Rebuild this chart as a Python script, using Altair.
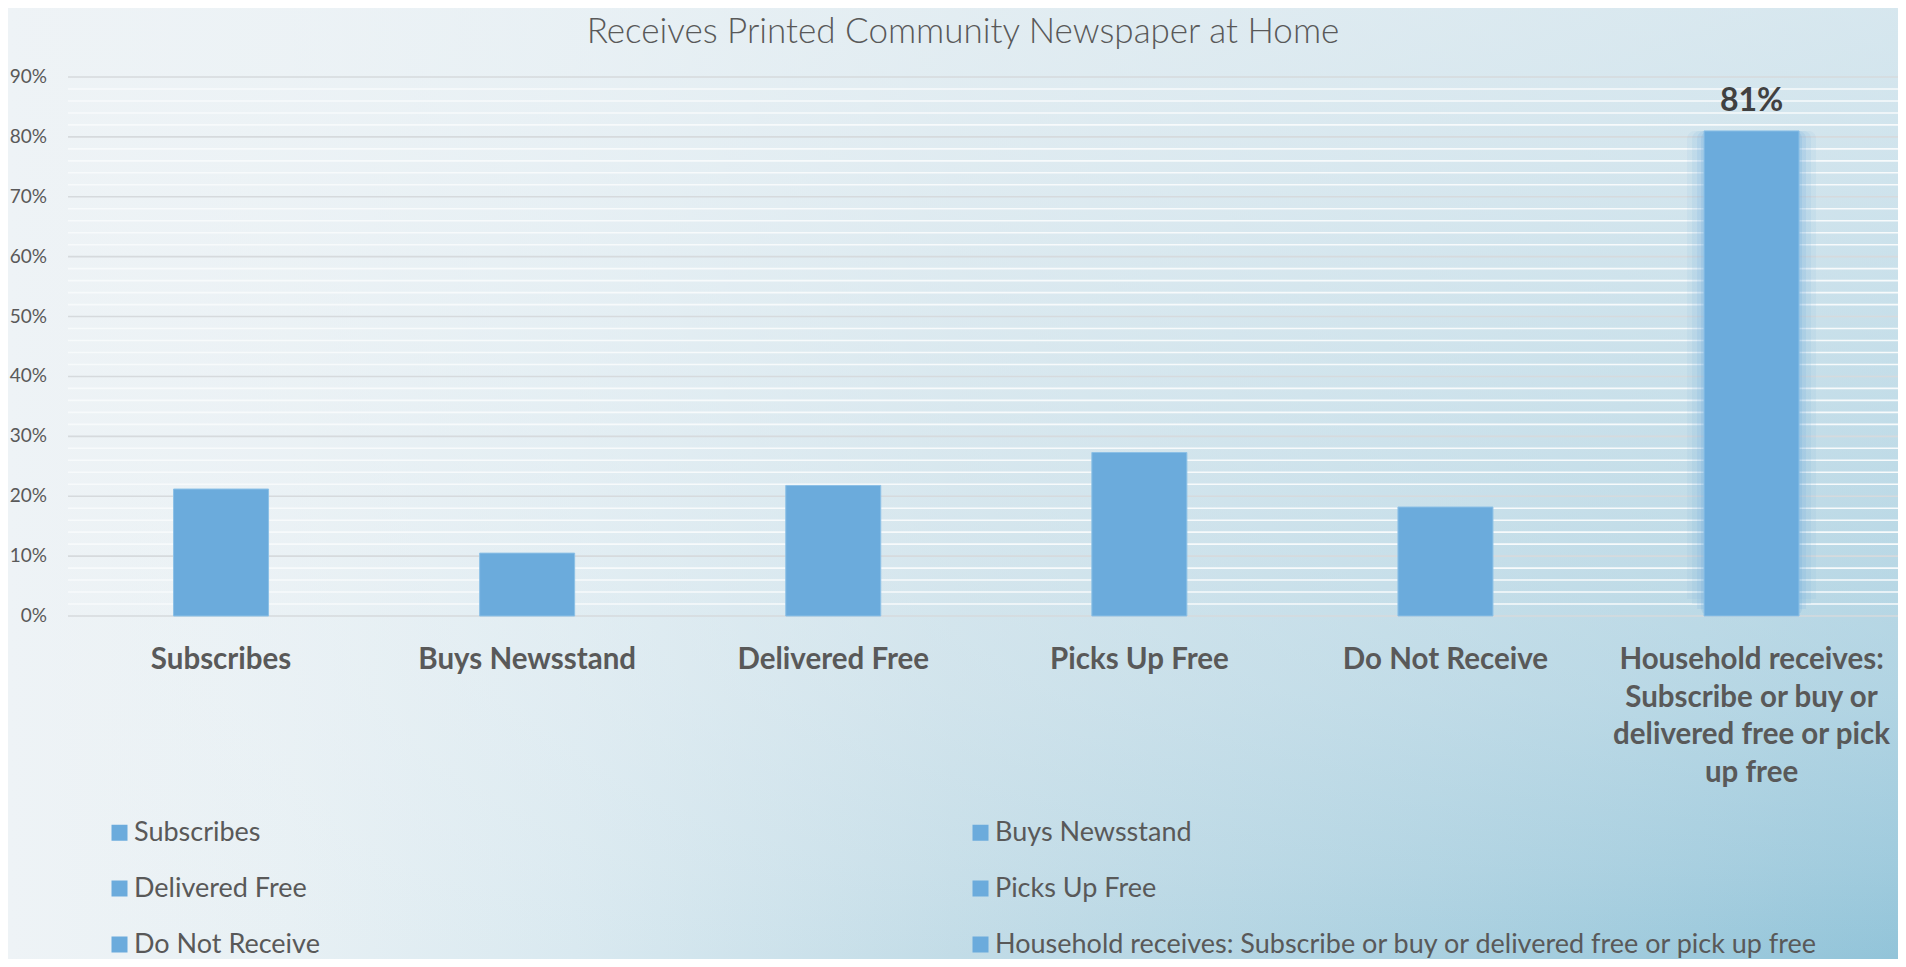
import altair as alt
import pandas as pd

# ---------------- data ----------------
categories = [
    "Subscribes",
    "Buys Newsstand",
    "Delivered Free",
    "Picks Up Free",
    "Do Not Receive",
    "Household receives: Subscribe or buy or delivered free or pick up free",
]
values = [0.212, 0.105, 0.218, 0.273, 0.182, 0.81]
value_labels = ["", "", "", "", "", "81%"]
axis_label_lines = [
    ["Subscribes"],
    ["Buys Newsstand"],
    ["Delivered Free"],
    ["Picks Up Free"],
    ["Do Not Receive"],
    ["Household receives:", "Subscribe or buy or", "delivered free or pick", "up free"],
]
highlight = categories[5]
major_ticks = [0.0, 0.1, 0.2, 0.3, 0.4, 0.5, 0.6, 0.7, 0.8, 0.9]
minor_ticks = [i / 50 for i in range(46) if i % 5 != 0]
title_text = "Receives Printed Community Newspaper at Home"

# ---------------- styling ----------------
FONT = "Lato"
TEXT = "#595959"
BAR = "#6babdc"
W, H = 1830, 539
PAD_L, PAD_T, PAD_R, PAD_B = 60, 69, 0, 343

df = pd.DataFrame({
    "category": categories,
    "value": values,
    "label": value_labels,
    "wrapped": ["\n".join(l) for l in axis_label_lines],
})
glow_df = df[df["category"] == highlight]
major_df = pd.DataFrame({"v": major_ticks})
minor_df = pd.DataFrame({"v": minor_ticks})
one_df = pd.DataFrame({"a": [0]})

yscale = alt.Scale(domain=[0, 0.9], nice=False, zero=True)
xscale = alt.Scale(domain=categories, range=[0, 1836.6], paddingInner=0.1, paddingOuter=0.05)


def xenc():
    return alt.X("category:N", scale=xscale, sort=categories, axis=None)


# background: horizontal blue gradient, faded toward the top by a light overlay
grad_h = alt.LinearGradient(
    gradient="linear", x1=0, y1=0, x2=1, y2=0,
    stops=[
        alt.GradientStop(offset=0.0, color="#eef3f6"),
        alt.GradientStop(offset=0.15, color="#e7f0f4"),
        alt.GradientStop(offset=0.3, color="#d9e9f0"),
        alt.GradientStop(offset=0.5, color="#c2dce7"),
        alt.GradientStop(offset=0.75, color="#aad0e0"),
        alt.GradientStop(offset=1.0, color="#92c4d9"),
    ],
)
grad_v = alt.LinearGradient(
    gradient="linear", x1=0, y1=0, x2=0, y2=1,
    stops=[
        alt.GradientStop(offset=0.0, color="rgba(238,243,246,0.74)"),
        alt.GradientStop(offset=0.2, color="rgba(238,243,246,0.65)"),
        alt.GradientStop(offset=0.5, color="rgba(238,243,246,0.48)"),
        alt.GradientStop(offset=0.72, color="rgba(238,243,246,0.34)"),
        alt.GradientStop(offset=0.9, color="rgba(238,243,246,0.15)"),
        alt.GradientStop(offset=1.0, color="rgba(238,243,246,0.0)"),
    ],
)


def bg_rect(fill):
    return alt.Chart(one_df).mark_rect(fill=fill, strokeWidth=0).encode(
        x=alt.value(-PAD_L), x2=alt.value(W + PAD_R),
        y=alt.value(-PAD_T), y2=alt.value(H + PAD_B),
    )


bg1 = bg_rect(grad_h)
bg2 = bg_rect(grad_v)

minor = alt.Chart(minor_df).mark_rule(color="#f7fafb", strokeWidth=1.6).encode(
    y=alt.Y("v:Q", scale=yscale, axis=None)
)
major = alt.Chart(major_df).mark_rule(color="#d6dadd", strokeWidth=1.6).encode(
    y=alt.Y("v:Q", scale=yscale, axis=None)
)

# y tick labels
ylabels = alt.Chart(major_df).mark_text(
    align="right", baseline="middle", font=FONT, fontSize=19, color=TEXT
).encode(
    x=alt.value(-21),
    y=alt.Y("v:Q", scale=yscale, axis=None),
    text=alt.Text("v:Q", format=".0%"),
)

# x category labels (wrapped)
xlabels = alt.Chart(df).mark_text(
    align="center", baseline="top", lineBreak="\n", lineHeight=37.7,
    font=FONT, fontSize=29.5, fontWeight="bold", color=TEXT,
).encode(
    x=xenc(),
    y=alt.value(H + 30),
    text="wrapped:N",
)

glow_layers = []
for size, off, op in [(129, -17, 0.08), (119, -12, 0.11), (109, -7, 0.15), (101, -3, 0.2)]:
    glow_layers.append(
        alt.Chart(glow_df).mark_bar(size=size, yOffset=off, color=BAR, opacity=op, cornerRadius=8).encode(
            x=xenc(),
            y=alt.Y("value:Q", scale=yscale, axis=None),
        )
    )

bars = alt.Chart(df).mark_bar(size=95, stroke="#8cc0e6", strokeWidth=1).encode(
    x=xenc(),
    y=alt.Y("value:Q", scale=yscale, axis=None),
    color=alt.Color(
        "category:N",
        scale=alt.Scale(domain=categories, range=[BAR] * len(categories)),
        sort=categories,
        legend=alt.Legend(
            title=None,
            orient="none",
            direction="horizontal",
            legendX=38,
            legendY=742,
            columns=2,
            columnPadding=647,
            rowPadding=28,
            padding=0,
            symbolType="square",
            symbolSize=256,
            symbolStrokeWidth=0,
            symbolOpacity=1,
            labelFont=FONT,
            labelFontSize=27,
            labelColor=TEXT,
            labelOffset=1,
            labelLimit=1500,
            zindex=1,
        ),
    ),
)

value_text = alt.Chart(df).mark_text(
    dy=-30, font=FONT, fontSize=32, fontWeight="bold", color="#404040", baseline="middle"
).encode(
    x=xenc(),
    y=alt.Y("value:Q", scale=yscale, axis=None),
    text="label:N",
)

title = alt.Chart(one_df).mark_text(
    align="center", baseline="middle", font=FONT, fontSize=35, fontWeight=300, color=TEXT
).encode(
    x=alt.value(895), y=alt.value(-45.5), text=alt.value(title_text)
)

chart = alt.layer(
    bg1, bg2, minor, major, *glow_layers, bars, value_text, ylabels, xlabels, title
).properties(
    width=W,
    height=H,
    padding={"left": PAD_L, "top": PAD_T, "right": PAD_R, "bottom": PAD_B},
    autosize=alt.AutoSizeParams(type="none"),
).configure_view(strokeWidth=0).configure(background="#ffffff")

chart.save("out.html", embed_options={"renderer": "svg", "actions": False})
